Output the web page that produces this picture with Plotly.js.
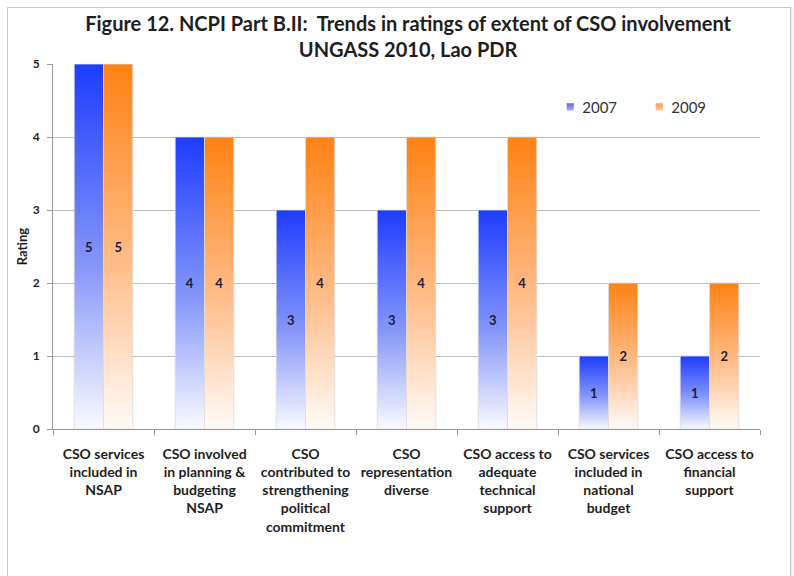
<!DOCTYPE html>
<html>
<head>
<meta charset="utf-8">
<script src="https://cdn.plot.ly/plotly-3.0.1.min.js"></script>
<style>
html,body{margin:0;padding:0;background:#fff;}
#wrap{position:relative;width:794px;height:576px;overflow:hidden;}
#chart{position:absolute;left:0;top:0;width:794px;height:576px;}
#frame{position:absolute;left:7px;top:7px;width:782px;height:600px;border:1px solid #c9c9c9;box-shadow:1px 1px 2px rgba(0,0,0,0.12);pointer-events:none;}
</style>
</head>
<body>
<div id="wrap"><div id="chart"></div><div id="frame"></div></div>
<script>
const categories = [
  "CSO services<br>included in<br>NSAP",
  "CSO involved<br>in planning &amp;<br>budgeting<br>NSAP",
  "CSO<br>contributed to<br>strengthening<br>political<br>commitment",
  "CSO<br>representation<br>diverse",
  "CSO access to<br>adequate<br>technical<br>support",
  "CSO services<br>included in<br>national<br>budget",
  "CSO access to<br>financial<br>support"
];
const seriesNames = ["2007", "2009"];
const values2007 = [5, 4, 3, 3, 3, 1, 1];
const values2009 = [5, 4, 4, 4, 4, 2, 2];
const yTicks = [0, 1, 2, 3, 4, 5];

const FONT = "Lato, 'Open Sans', sans-serif";
const labelFont = {family: FONT, size: 13, color: "#1c1c3c", weight: "bold"};

function barTrace(name, vals, color) {
  return {
    type: "bar",
    name: name,
    x: categories,
    y: vals,
    text: vals.map(String),
    textposition: "inside",
    insidetextanchor: "middle",
    textangle: 0,
    constraintext: "none",
    textfont: labelFont,
    marker: {color: color, line: {color: "#dcdcdc", width: 0.8}},
    hoverinfo: "skip"
  };
}

const data = [
  barTrace(seriesNames[0], values2007, "#2a46ff"),
  barTrace(seriesNames[1], values2009, "#ff8a1f")
];

const layout = {
  width: 794, height: 576,
  paper_bgcolor: "rgba(0,0,0,0)",
  plot_bgcolor: "#fff",
  margin: {l: 53, r: 34, t: 64, b: 147, autoexpand: false},
  barmode: "group",
  bargap: 0.42,
  bargroupgap: 0,
  title: {
    text: "<b>Figure 12. NCPI Part B.II:  Trends in ratings of extent of CSO involvement<br>UNGASS 2010, Lao PDR</b>",
    font: {family: FONT, size: 20, color: "#1e1e1e"},
    x: 0.514, xanchor: "center",
    yref: "container",
    y: 0.947, yanchor: "top"
  },
  xaxis: {
    type: "category",
    tickmode: "array",
    tickvals: categories,
    ticktext: categories.map(c => "<b>" + c + "</b>"),
    tickson: "boundaries",
    ticks: "outside",
    ticklen: 5,
    tickcolor: "#999",
    tickangle: 0,
    ticklabelstandoff: 12,
    showline: true,
    linecolor: "#999",
    linewidth: 1,
    showgrid: false,
    tickfont: {family: FONT, size: 14, color: "#1e1e1e"},
    automargin: false
  },
  yaxis: {
    range: [0, 5],
    tickmode: "array",
    tickvals: yTicks,
    ticktext: yTicks.map(v => "<b>" + v + "</b>"),
    ticks: "outside",
    ticklen: 5,
    tickcolor: "#999",
    ticklabelstandoff: 5,
    showline: true,
    linecolor: "#999",
    linewidth: 1,
    showgrid: true,
    gridcolor: "#bdbdbd",
    gridwidth: 1,
    zeroline: false,
    tickfont: {family: FONT, size: 12, color: "#1e1e1e"},
    title: {text: "<b>Rating</b>", font: {family: FONT, size: 13, color: "#1e1e1e"}, standoff: 2},
    automargin: false
  },
  showlegend: true,
  legend: {
    orientation: "h",
    x: 0.692, xanchor: "left",
    y: 0.882, yanchor: "middle",
    bgcolor: "rgba(0,0,0,0)",
    font: {family: FONT, size: 15, color: "#333"},
    entrywidth: 44,
    entrywidthmode: "pixels",
    itemwidth: 30
  }
};

Plotly.newPlot("chart", data, layout, {displayModeBar: false, staticPlot: true}).then(gd => {
  const NS = "http://www.w3.org/2000/svg";
  const svg = gd.querySelector("svg.main-svg");
  let defs = svg.querySelector("defs");
  if (!defs) { defs = document.createElementNS(NS, "defs"); svg.insertBefore(defs, svg.firstChild); }
  const grads = [
    {id: "gBlue", stops: [["0%", "#1d3cff"], ["55%", "#8596f9"], ["100%", "#f9faff"]]},
    {id: "gOrange", stops: [["0%", "#ff8214"], ["55%", "#ffbd8a"], ["100%", "#fffbf8"]]},
    {id: "gBlueL", stops: [["0%", "#5a66ee"], ["100%", "#a9aff6"]]},
    {id: "gOrangeL", stops: [["0%", "#ff9a50"], ["100%", "#ffc9a0"]]}
  ];
  grads.forEach(g => {
    const lg = document.createElementNS(NS, "linearGradient");
    lg.setAttribute("id", g.id);
    lg.setAttribute("x1", "0"); lg.setAttribute("y1", "0");
    lg.setAttribute("x2", "0"); lg.setAttribute("y2", "1");
    g.stops.forEach(s => {
      const st = document.createElementNS(NS, "stop");
      st.setAttribute("offset", s[0]);
      st.setAttribute("stop-color", s[1]);
      lg.appendChild(st);
    });
    defs.appendChild(lg);
  });
  const traces = gd.querySelectorAll(".barlayer .trace");
  traces.forEach((t, i) => {
    t.querySelectorAll(".point path").forEach(p => { p.style.fill = "url(#" + (i === 0 ? "gBlue" : "gOrange") + ")"; });
  });
  const legendTraces = gd.querySelectorAll(".legend .traces");
  legendTraces.forEach((t, i) => {
    t.querySelectorAll(".legendpoints path").forEach(p => {
      p.style.fill = "url(#" + (i === 0 ? "gBlueL" : "gOrangeL") + ")";
      p.style.stroke = "none";
      p.setAttribute("transform", "translate(28,0) scale(0.6)");
    });
  });
});
</script>
</body>
</html>
